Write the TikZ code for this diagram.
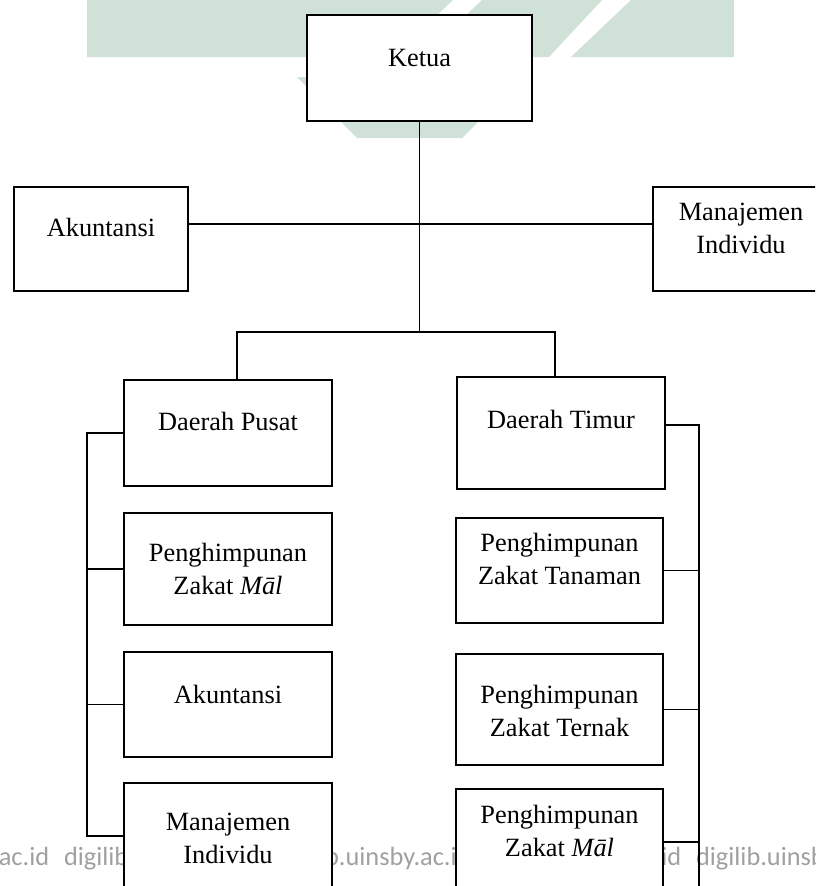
\documentclass[tikz,border=0pt]{standalone}
\usepackage{fontspec}
\setmainfont{Liberation Serif}
\newfontfamily\wmfont{Carlito}
\newlength\pxu
\setlength\pxu{0.016cm}
\definecolor{wmgreen}{RGB}{208,225,215}
\definecolor{wmgrey}{RGB}{160,160,160}
\tikzset{
    orgbox/.style 2 args={draw, fill=white, line width=0.75pt, inner sep=0pt,
        minimum width=#1\pxu, minimum height=#2\pxu},
    lbl/.style={anchor=north, align=center, inner sep=0pt, font=\fontsize{12}{15}\selectfont},
    link/.style={line width=0.75pt}
}

\begin{document}
\begin{tikzpicture}[x=0.016cm,y=-0.016cm]
    \useasboundingbox (0,0) rectangle (815,886);
    \clip (0,0) rectangle (815,886);
    \fill[wmgreen] (87,0) -- (453,0) -- (393,57) -- (87,57) -- cycle;
    \fill[wmgreen] (482,0) -- (602,0) -- (549,57) -- (422,57) -- cycle;
    \fill[wmgreen] (631,0) -- (734,0) -- (734,57) -- (571,57) -- cycle;
    \fill[wmgreen] (297,77) -- (523,77) -- (462,138) -- (357,138) -- cycle;
    \node[anchor=base west, text=wmgrey, inner sep=0pt, font=\wmfont\fontsize{12}{15}\selectfont] (wm) at (-147,865)
        {digilib.uinsby.ac.id\hspace{15\pxu}digilib.uinsby.ac.id\hspace{15\pxu}digilib.uinsby.ac.id\hspace{15\pxu}digilib.uinsby.ac.id\hspace{15\pxu}digilib.uinsby.ac.id};

    \node[orgbox={225}{106}] (ketua) at (419.5,68) {};
    \node[orgbox={174}{104}] (akun) at (101,239) {};
    \node[orgbox={176}{104}] (manind) at (741,239) {};
    \node[orgbox={208}{106}] (pusat) at (228,433) {};
    \node[orgbox={208}{112}] (timur) at (561,433) {};
    \node[orgbox={208}{112}] (malL) at (228,569) {};
    \node[orgbox={208}{105}] (akunL) at (228,704.5) {};
    \node[orgbox={208}{106}] (manindL) at (228,836) {};
    \node[orgbox={207}{105}] (tanam) at (559.5,570.5) {};
    \node[orgbox={207}{111}] (ternak) at (559.5,709.5) {};
    \node[orgbox={207}{106}] (malR) at (559.5,842) {};

    \node[lbl] (t-ketua) at ([yshift=-35\pxu]ketua.north) {Ketua};
    \node[lbl] (t-akun) at ([yshift=-32\pxu]akun.north) {Akuntansi};
    \node[lbl] (t-manind) at ([yshift=-16\pxu]manind.north) {Manajemen\\Individu};
    \node[lbl] (t-pusat) at ([yshift=-33\pxu]pusat.north) {Daerah Pusat};
    \node[lbl] (t-timur) at ([yshift=-34\pxu]timur.north) {Daerah Timur};
    \node[lbl] (t-malL) at ([yshift=-31\pxu]malL.north) {Penghimpunan\\Zakat \textit{Māl}};
    \node[lbl] (t-akunL) at ([yshift=-34\pxu]akunL.north) {Akuntansi};
    \node[lbl] (t-manindL) at ([yshift=-30\pxu]manindL.north) {Manajemen\\Individu};
    \node[lbl] (t-tanam) at ([yshift=-16\pxu]tanam.north) {Penghimpunan\\Zakat Tanaman};
    \node[lbl] (t-ternak) at ([yshift=-32\pxu]ternak.north) {Penghimpunan\\Zakat Ternak};
    \node[lbl] (t-malR) at ([yshift=-17\pxu]malR.north) {Penghimpunan\\Zakat \textit{Māl}};

    \coordinate (hub) at ([yshift=-210\pxu]ketua.south);
    \draw[link] (ketua.south) -- (hub);
    \draw[link] ([yshift=15\pxu]akun.east) -- ([yshift=15\pxu]manind.west);
    \draw[link] ([xshift=9\pxu]pusat.north) |- (hub) -| ([xshift=-6\pxu]timur.north);

    \coordinate (spineL) at (87,0);
    \draw[link] (pusat.west) -- (pusat.west -| spineL) -- (manindL.west -| spineL) -- (manindL.west);
    \foreach \b in {malL,akunL}
        \draw[link] (\b.west) -- (\b.west -| spineL);

    \coordinate (spineR) at (699,900);
    \draw[link] ([yshift=8\pxu]timur.east) -| (spineR);
    \foreach \b in {tanam,ternak,malR}
        \draw[link] (\b.east) -- (\b.east -| spineR);
\end{tikzpicture}
\end{document}
